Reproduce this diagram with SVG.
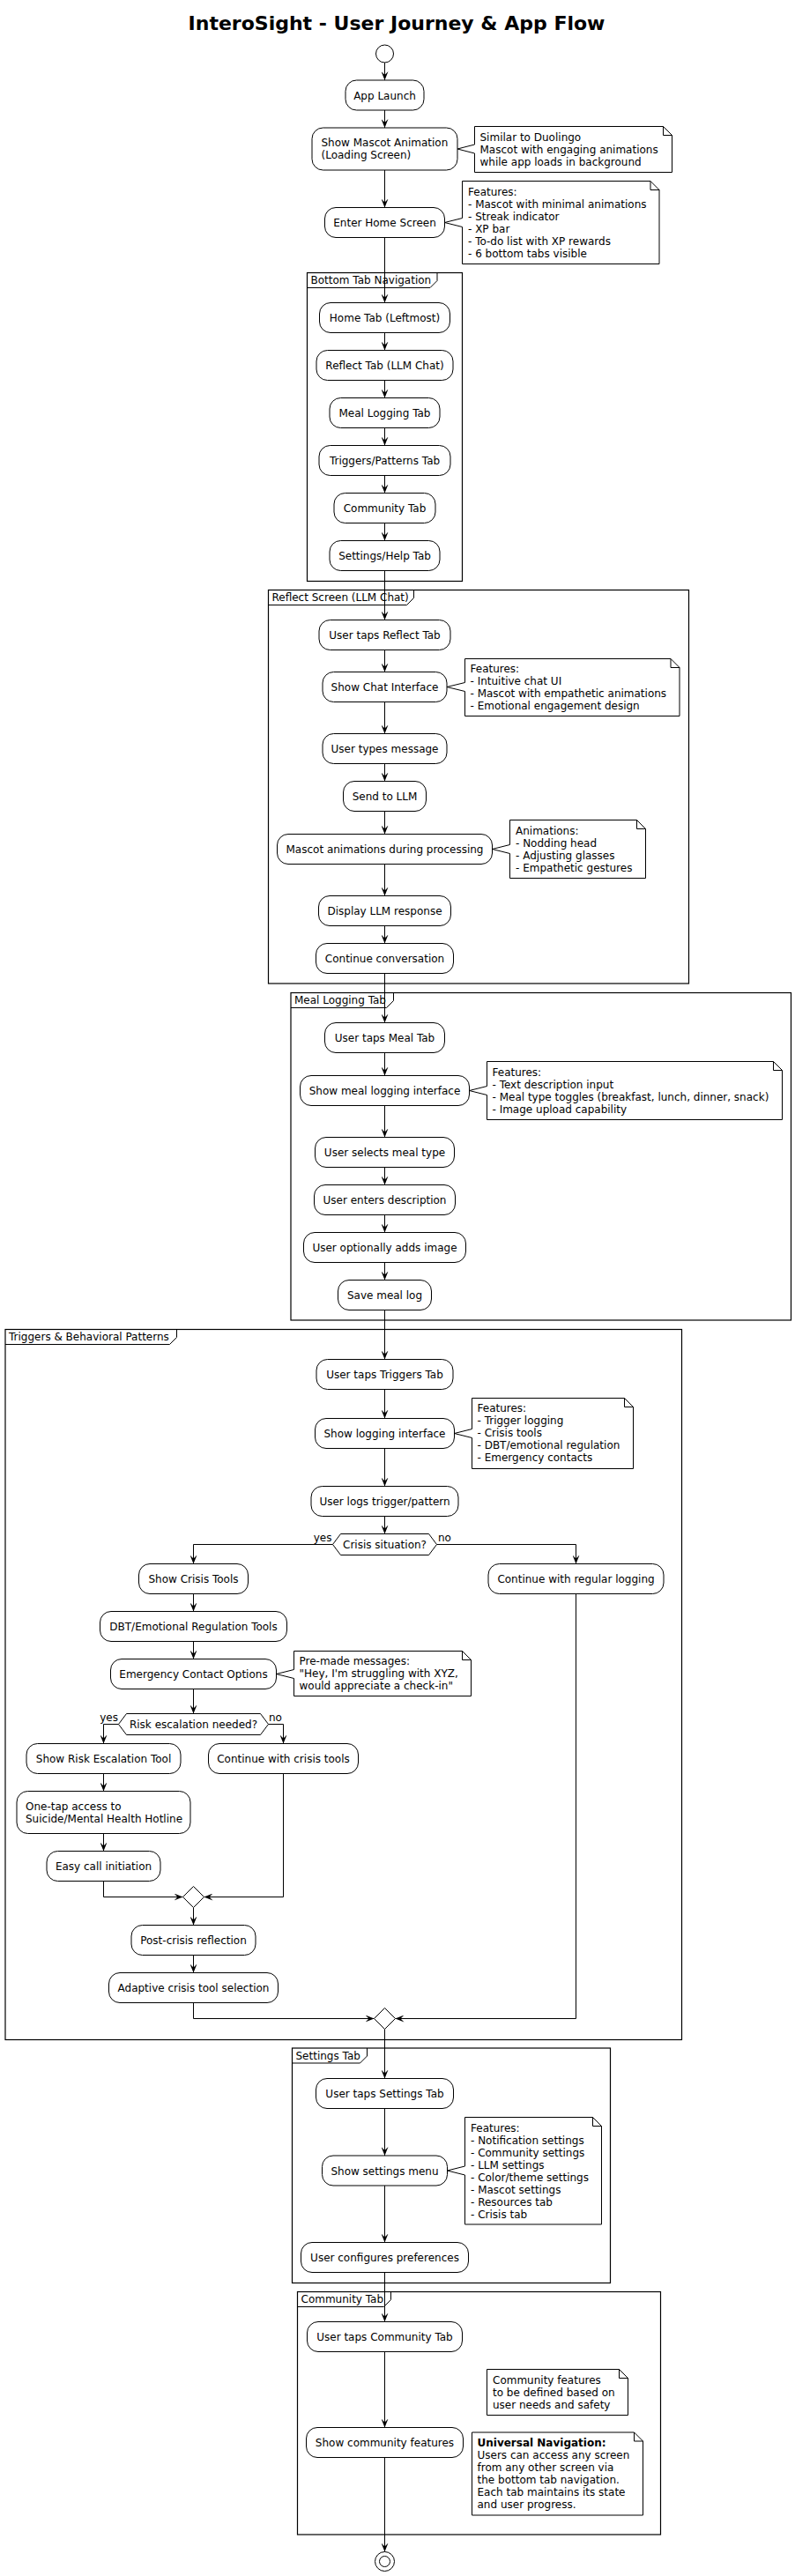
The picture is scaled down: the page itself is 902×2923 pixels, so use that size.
<svg xmlns="http://www.w3.org/2000/svg" width="902" height="2923" viewBox="0 0 902 2923">
<style>
.t{font-family:"DejaVu Sans","Liberation Sans",sans-serif;font-size:12px;fill:#000}
.c{text-anchor:middle}
.e{text-anchor:end}
.b{font-weight:bold}
.box{fill:#fff;stroke:#000;stroke-width:1}
.frame{fill:none;stroke:#000;stroke-width:1.2}
.note{fill:#fff;stroke:#000;stroke-width:1}
.fold{fill:none;stroke:#000;stroke-width:1}
.edge{fill:none;stroke:#000;stroke-width:1;marker-end:url(#arr)}
.line{fill:none;stroke:#000;stroke-width:1}
</style>
<defs>
<marker id="arr" markerUnits="userSpaceOnUse" markerWidth="10" markerHeight="8" refX="10" refY="4" orient="auto"><path d="M0,0 L10,4 L0,8 L4,4 Z" fill="#000"/></marker>
</defs>
<rect width="902" height="2923" fill="#fff"/>
<text id="title" class="t c b" x="450" y="34" style="font-size:22px">InteroSight - User Journey &amp; App Flow</text>

<g id="frames">
<g id="frame-bottom-tab"><rect class="frame" x="348.5" y="309.5" width="176" height="350"/><path class="line" d="M348.5,326.5 H488 L496,318.5 V309.5"/><text class="t" x="352.5" y="322">Bottom Tab Navigation</text></g>
<g id="frame-reflect"><rect class="frame" x="304.5" y="669.5" width="477" height="446.5"/><path class="line" d="M304.5,686.5 H461.5 L469.5,678.5 V669.5"/><text class="t" x="308.5" y="682">Reflect Screen (LLM Chat)</text></g>
<g id="frame-meal"><rect class="frame" x="330" y="1126.5" width="567.5" height="371.5"/><path class="line" d="M330,1143.5 H438.5 L446.5,1135.5 V1126.5"/><text class="t" x="334" y="1139">Meal Logging Tab</text></g>
<g id="frame-triggers"><rect class="frame" x="6" y="1508.5" width="767.5" height="806"/><path class="line" d="M6,1525.5 H192.5 L200.5,1517.5 V1508.5"/><text class="t" x="10" y="1521">Triggers &amp; Behavioral Patterns</text></g>
<g id="frame-settings"><rect class="frame" x="331.5" y="2324" width="361" height="266.5"/><path class="line" d="M331.5,2341 H408.5 L416.5,2333 V2324"/><text class="t" x="335.5" y="2336.5">Settings Tab</text></g>
<g id="frame-community"><rect class="frame" x="337.5" y="2600.5" width="412" height="275.5"/><path class="line" d="M337.5,2617.5 H435.5 L443.5,2609.5 V2600.5"/><text class="t" x="341.5" y="2613">Community Tab</text></g>
</g>

<g id="connectors">
<path class="edge" d="M436.5,71 V91"/>
<path class="edge" d="M436.5,125 V145"/>
<path class="edge" d="M436.5,193 V235.5"/>
<path class="edge" d="M436.5,269.5 V343.5"/>
<path class="edge" d="M436.5,377.5 V397.5"/>
<path class="edge" d="M436.5,431.5 V451.5"/>
<path class="edge" d="M436.5,485.5 V505.5"/>
<path class="edge" d="M436.5,539.5 V559.5"/>
<path class="edge" d="M436.5,593.5 V613.5"/>
<path class="edge" d="M436.5,647.5 V703.5"/>
<path class="edge" d="M436.5,737.5 V762.5"/>
<path class="edge" d="M436.5,796.5 V832.5"/>
<path class="edge" d="M436.5,866.5 V886.5"/>
<path class="edge" d="M436.5,920.5 V946.5"/>
<path class="edge" d="M436.5,980.5 V1016.5"/>
<path class="edge" d="M436.5,1050.5 V1070.5"/>
<path class="edge" d="M436.5,1104.5 V1160.5"/>
<path class="edge" d="M436.5,1194.5 V1220.5"/>
<path class="edge" d="M436.5,1254.5 V1290.5"/>
<path class="edge" d="M436.5,1324.5 V1344.5"/>
<path class="edge" d="M436.5,1378.5 V1398.5"/>
<path class="edge" d="M436.5,1432.5 V1452.5"/>
<path class="edge" d="M436.5,1486.5 V1542.5"/>
<path class="edge" d="M436.5,1576.5 V1609.5"/>
<path class="edge" d="M436.5,1643.5 V1686.5"/>
<path class="edge" d="M436.5,1720.5 V1740.5"/>
<path class="edge" d="M377.5,1752.5 H219.5 V1774.5"/>
<path class="edge" d="M495.5,1752.5 H653.5 V1774.5"/>
<path class="edge" d="M219.5,1808.5 V1828.5"/>
<path class="edge" d="M219.5,1862.5 V1882.5"/>
<path class="edge" d="M219.5,1916.5 V1944.5"/>
<path class="edge" d="M134.5,1956.5 H117.5 V1978.5"/>
<path class="edge" d="M304.5,1956.5 H321.5 V1978.5"/>
<path class="edge" d="M117.5,2012.5 V2032.5"/>
<path class="edge" d="M117.5,2080.5 V2100.5"/>
<path class="edge" d="M117.5,2134.5 V2152.5 H207.5"/>
<path class="edge" d="M321.5,2012.5 V2152.5 H231.5"/>
<path class="edge" d="M219.5,2164.5 V2184.5"/>
<path class="edge" d="M219.5,2218.5 V2238.5"/>
<path class="edge" d="M219.5,2272.5 V2290.5 H424.5"/>
<path class="edge" d="M653.5,1808.5 V2290.5 H448.5"/>
<path class="edge" d="M436.5,2302.5 V2358.5"/>
<path class="edge" d="M436.5,2392.5 V2446"/>
<path class="edge" d="M436.5,2480 V2544.5"/>
<path class="edge" d="M436.5,2578.5 V2634.5"/>
<path class="edge" d="M436.5,2668.5 V2754.5"/>
<path class="edge" d="M436.5,2788.5 V2895.5"/>
<text class="t e" x="376.5" y="1749">yes</text>
<text class="t" x="497" y="1749">no</text>
<text class="t e" x="134" y="1953">yes</text>
<text class="t" x="305" y="1953">no</text>
</g>

<g id="start"><circle cx="436.5" cy="61" r="10" fill="#fff" stroke="#000" stroke-width="1"/></g>
<g id="app-launch"><rect class="box" x="392" y="91" width="89" height="34" rx="12.5"/><text class="t c" x="436.5" y="112.5">App Launch</text></g>
<g id="show-mascot"><rect class="box" x="354" y="145" width="165" height="48" rx="12.5"/><text class="t" x="364.5" y="166">Show Mascot Animation</text><text class="t" x="364.5" y="180">(Loading Screen)</text></g>
<g id="note-mascot"><path class="note" d="M538.5,143.5 L752.5,143.5 L762.5,153.5 L762.5,195.5 L538.5,195.5 L538.5,174 L519,169 L538.5,164 Z"/><path class="fold" d="M752.5,143.5 V153.5 H762.5"/><text class="t" x="544.5" y="159.5">Similar to Duolingo</text><text class="t" x="544.5" y="173.5">Mascot with engaging animations</text><text class="t" x="544.5" y="187.5">while app loads in background</text></g>
<g id="enter-home"><rect class="box" x="368.5" y="235.5" width="136" height="34" rx="12.5"/><text class="t c" x="436.5" y="257">Enter Home Screen</text></g>
<g id="note-home"><path class="note" d="M524.5,205.5 L738,205.5 L748,215.5 L748,299.5 L524.5,299.5 L524.5,257.5 L504.5,252.5 L524.5,247.5 Z"/><path class="fold" d="M738,205.5 V215.5 H748"/><text class="t" x="531" y="221.5">Features:</text><text class="t" x="531" y="235.5">- Mascot with minimal animations</text><text class="t" x="531" y="249.5">- Streak indicator</text><text class="t" x="531" y="263.5">- XP bar</text><text class="t" x="531" y="277.5">- To-do list with XP rewards</text><text class="t" x="531" y="291.5">- 6 bottom tabs visible</text></g>

<g id="home-tab"><rect class="box" x="362.5" y="343.5" width="148" height="34" rx="12.5"/><text class="t c" x="436.5" y="364.5">Home Tab (Leftmost)</text></g>
<g id="reflect-tab"><rect class="box" x="359" y="397.5" width="155" height="34" rx="12.5"/><text class="t c" x="436.5" y="418.5">Reflect Tab (LLM Chat)</text></g>
<g id="meal-tab"><rect class="box" x="374" y="451.5" width="125" height="34" rx="12.5"/><text class="t c" x="436.5" y="472.5">Meal Logging Tab</text></g>
<g id="triggers-tab"><rect class="box" x="362" y="505.5" width="149" height="34" rx="12.5"/><text class="t c" x="436.5" y="526.5">Triggers/Patterns Tab</text></g>
<g id="community-tab"><rect class="box" x="379" y="559.5" width="115" height="34" rx="12.5"/><text class="t c" x="436.5" y="580.5">Community Tab</text></g>
<g id="settings-help-tab"><rect class="box" x="374" y="613.5" width="125" height="34" rx="12.5"/><text class="t c" x="436.5" y="634.5">Settings/Help Tab</text></g>

<g id="user-taps-reflect"><rect class="box" x="362" y="703.5" width="149" height="34" rx="12.5"/><text class="t c" x="436.5" y="725">User taps Reflect Tab</text></g>
<g id="show-chat"><rect class="box" x="366" y="762.5" width="141" height="34" rx="12.5"/><text class="t c" x="436.5" y="784">Show Chat Interface</text></g>
<g id="note-chat"><path class="note" d="M527.5,747.5 L761,747.5 L771,757.5 L771,812.5 L527.5,812.5 L527.5,784.5 L507,779.5 L527.5,774.5 Z"/><path class="fold" d="M761,747.5 V757.5 H771"/><text class="t" x="533.5" y="762.5">Features:</text><text class="t" x="533.5" y="776.5">- Intuitive chat UI</text><text class="t" x="533.5" y="790.5">- Mascot with empathetic animations</text><text class="t" x="533.5" y="804.5">- Emotional engagement design</text></g>
<g id="user-types"><rect class="box" x="366" y="832.5" width="141" height="34" rx="12.5"/><text class="t c" x="436.5" y="854">User types message</text></g>
<g id="send-llm"><rect class="box" x="389.5" y="886.5" width="94" height="34" rx="12.5"/><text class="t c" x="436.5" y="908">Send to LLM</text></g>
<g id="mascot-processing"><rect class="box" x="314.5" y="946.5" width="244" height="34" rx="12.5"/><text class="t c" x="436.5" y="968">Mascot animations during processing</text></g>
<g id="note-animations"><path class="note" d="M578.5,930.5 L722.5,930.5 L732.5,940.5 L732.5,996.5 L578.5,996.5 L578.5,968.5 L558.5,963.5 L578.5,958.5 Z"/><path class="fold" d="M722.5,930.5 V940.5 H732.5"/><text class="t" x="585" y="946.5">Animations:</text><text class="t" x="585" y="960.5">- Nodding head</text><text class="t" x="585" y="974.5">- Adjusting glasses</text><text class="t" x="585" y="988.5">- Empathetic gestures</text></g>
<g id="display-llm"><rect class="box" x="361.5" y="1016.5" width="150" height="34" rx="12.5"/><text class="t c" x="436.5" y="1038">Display LLM response</text></g>
<g id="continue-conversation"><rect class="box" x="358.5" y="1070.5" width="156" height="34" rx="12.5"/><text class="t c" x="436.5" y="1092">Continue conversation</text></g>

<g id="user-taps-meal"><rect class="box" x="368.5" y="1160.5" width="136" height="34" rx="12.5"/><text class="t c" x="436.5" y="1182">User taps Meal Tab</text></g>
<g id="show-meal"><rect class="box" x="340.5" y="1220.5" width="192" height="34" rx="12.5"/><text class="t c" x="436.5" y="1242">Show meal logging interface</text></g>
<g id="note-meal"><path class="note" d="M552.5,1204.5 L877.5,1204.5 L887.5,1214.5 L887.5,1270.5 L552.5,1270.5 L552.5,1242.5 L532.5,1237.5 L552.5,1232.5 Z"/><path class="fold" d="M877.5,1204.5 V1214.5 H887.5"/><text class="t" x="558.5" y="1220.5">Features:</text><text class="t" x="558.5" y="1234.5">- Text description input</text><text class="t" x="558.5" y="1248.5">- Meal type toggles (breakfast, lunch, dinner, snack)</text><text class="t" x="558.5" y="1262.5">- Image upload capability</text></g>
<g id="select-meal-type"><rect class="box" x="357.5" y="1290.5" width="158" height="34" rx="12.5"/><text class="t c" x="436.5" y="1312">User selects meal type</text></g>
<g id="enter-description"><rect class="box" x="356.5" y="1344.5" width="160" height="34" rx="12.5"/><text class="t c" x="436.5" y="1366">User enters description</text></g>
<g id="adds-image"><rect class="box" x="344.5" y="1398.5" width="184" height="34" rx="12.5"/><text class="t c" x="436.5" y="1420">User optionally adds image</text></g>
<g id="save-meal"><rect class="box" x="383.5" y="1452.5" width="106" height="34" rx="12.5"/><text class="t c" x="436.5" y="1474">Save meal log</text></g>

<g id="user-taps-triggers"><rect class="box" x="359" y="1542.5" width="155" height="34" rx="12.5"/><text class="t c" x="436.5" y="1564">User taps Triggers Tab</text></g>
<g id="show-logging"><rect class="box" x="357.5" y="1609.5" width="158" height="34" rx="12.5"/><text class="t c" x="436.5" y="1631">Show logging interface</text></g>
<g id="note-triggers"><path class="note" d="M535.5,1586.5 L708.5,1586.5 L718.5,1596.5 L718.5,1666.5 L535.5,1666.5 L535.5,1631.5 L515.5,1626.5 L535.5,1621.5 Z"/><path class="fold" d="M708.5,1586.5 V1596.5 H718.5"/><text class="t" x="541.5" y="1602">Features:</text><text class="t" x="541.5" y="1616">- Trigger logging</text><text class="t" x="541.5" y="1630">- Crisis tools</text><text class="t" x="541.5" y="1644">- DBT/emotional regulation</text><text class="t" x="541.5" y="1658">- Emergency contacts</text></g>
<g id="logs-trigger"><rect class="box" x="353" y="1686.5" width="167" height="34" rx="12.5"/><text class="t c" x="436.5" y="1708">User logs trigger/pattern</text></g>
<g id="crisis-decision"><path class="box" d="M377.5,1752.5 L386.5,1740.5 L486.5,1740.5 L495.5,1752.5 L486.5,1764.5 L386.5,1764.5 Z"/><text class="t c" x="436.5" y="1756.5">Crisis situation?</text></g>
<g id="show-crisis-tools"><rect class="box" x="157.5" y="1774.5" width="124" height="34" rx="12.5"/><text class="t c" x="219.5" y="1796">Show Crisis Tools</text></g>
<g id="regular-logging"><rect class="box" x="554" y="1774.5" width="199" height="34" rx="12.5"/><text class="t c" x="653.5" y="1796">Continue with regular logging</text></g>
<g id="dbt-tools"><rect class="box" x="113.5" y="1828.5" width="212" height="34" rx="12.5"/><text class="t c" x="219.5" y="1850">DBT/Emotional Regulation Tools</text></g>
<g id="emergency-contact"><rect class="box" x="125.5" y="1882.5" width="188" height="34" rx="12.5"/><text class="t c" x="219.5" y="1904">Emergency Contact Options</text></g>
<g id="note-premade"><path class="note" d="M333.5,1873.5 L524.5,1873.5 L534.5,1883.5 L534.5,1924.5 L333.5,1924.5 L333.5,1904.5 L313.5,1899.5 L333.5,1894.5 Z"/><path class="fold" d="M524.5,1873.5 V1883.5 H534.5"/><text class="t" x="339.5" y="1889">Pre-made messages:</text><text class="t" x="339.5" y="1903">"Hey, I'm struggling with XYZ,</text><text class="t" x="339.5" y="1917">would appreciate a check-in"</text></g>
<g id="risk-decision"><path class="box" d="M134.5,1956.5 L143.5,1944.5 L295.5,1944.5 L304.5,1956.5 L295.5,1968.5 L143.5,1968.5 Z"/><text class="t c" x="219.5" y="1960.5">Risk escalation needed?</text></g>
<g id="risk-tool"><rect class="box" x="30" y="1978.5" width="175" height="34" rx="12.5"/><text class="t c" x="117.5" y="2000">Show Risk Escalation Tool</text></g>
<g id="continue-crisis"><rect class="box" x="236.5" y="1978.5" width="170" height="34" rx="12.5"/><text class="t c" x="321.5" y="2000">Continue with crisis tools</text></g>
<g id="one-tap"><rect class="box" x="19" y="2032.5" width="197" height="48" rx="12.5"/><text class="t" x="29" y="2053.5">One-tap access to</text><text class="t" x="29" y="2067.5">Suicide/Mental Health Hotline</text></g>
<g id="easy-call"><rect class="box" x="53" y="2100.5" width="129" height="34" rx="12.5"/><text class="t c" x="117.5" y="2122">Easy call initiation</text></g>
<g id="merge-inner"><path class="box" d="M219.5,2140.5 L231.5,2152.5 L219.5,2164.5 L207.5,2152.5 Z"/></g>
<g id="post-crisis"><rect class="box" x="149" y="2184.5" width="141" height="34" rx="12.5"/><text class="t c" x="219.5" y="2206">Post-crisis reflection</text></g>
<g id="adaptive"><rect class="box" x="123.5" y="2238.5" width="192" height="34" rx="12.5"/><text class="t c" x="219.5" y="2260">Adaptive crisis tool selection</text></g>
<g id="merge-outer"><path class="box" d="M436.5,2278.5 L448.5,2290.5 L436.5,2302.5 L424.5,2290.5 Z"/></g>

<g id="user-taps-settings"><rect class="box" x="358.5" y="2358.5" width="156" height="34" rx="12.5"/><text class="t c" x="436.5" y="2380">User taps Settings Tab</text></g>
<g id="show-settings"><rect class="box" x="365.5" y="2446" width="142" height="34" rx="12.5"/><text class="t c" x="436.5" y="2467.5">Show settings menu</text></g>
<g id="note-settings"><path class="note" d="M527.5,2402.5 L672.5,2402.5 L682.5,2412.5 L682.5,2524 L527.5,2524 L527.5,2468 L507.5,2463 L527.5,2458 Z"/><path class="fold" d="M672.5,2402.5 V2412.5 H682.5"/><text class="t" x="534" y="2418.5">Features:</text><text class="t" x="534" y="2432.5">- Notification settings</text><text class="t" x="534" y="2446.5">- Community settings</text><text class="t" x="534" y="2460.5">- LLM settings</text><text class="t" x="534" y="2474.5">- Color/theme settings</text><text class="t" x="534" y="2488.5">- Mascot settings</text><text class="t" x="534" y="2502.5">- Resources tab</text><text class="t" x="534" y="2516.5">- Crisis tab</text></g>
<g id="configures"><rect class="box" x="341.5" y="2544.5" width="190" height="34" rx="12.5"/><text class="t c" x="436.5" y="2566">User configures preferences</text></g>

<g id="user-taps-community"><rect class="box" x="348.5" y="2634.5" width="176" height="34" rx="12.5"/><text class="t c" x="436.5" y="2656">User taps Community Tab</text></g>
<g id="note-community"><path class="note" d="M552.5,2688.5 L702.5,2688.5 L712.5,2698.5 L712.5,2740.5 L552.5,2740.5 Z"/><path class="fold" d="M702.5,2688.5 V2698.5 H712.5"/><text class="t" x="559" y="2704.5">Community features</text><text class="t" x="559" y="2718.5">to be defined based on</text><text class="t" x="559" y="2732.5">user needs and safety</text></g>
<g id="show-community"><rect class="box" x="347.5" y="2754.5" width="178" height="34" rx="12.5"/><text class="t c" x="436.5" y="2776">Show community features</text></g>
<g id="note-universal"><path class="note" d="M535.5,2760 L719.5,2760 L729.5,2770 L729.5,2854 L535.5,2854 Z"/><path class="fold" d="M719.5,2760 V2770 H729.5"/><text class="t b" x="541.5" y="2776">Universal Navigation:</text><text class="t" x="541.5" y="2790">Users can access any screen</text><text class="t" x="541.5" y="2804">from any other screen via</text><text class="t" x="541.5" y="2818">the bottom tab navigation.</text><text class="t" x="541.5" y="2832">Each tab maintains its state</text><text class="t" x="541.5" y="2846">and user progress.</text></g>
<g id="end"><circle cx="436.5" cy="2906.5" r="11" fill="#fff" stroke="#000" stroke-width="1"/><circle cx="436.5" cy="2906.5" r="6" fill="#fff" stroke="#000" stroke-width="1"/></g>
</svg>
